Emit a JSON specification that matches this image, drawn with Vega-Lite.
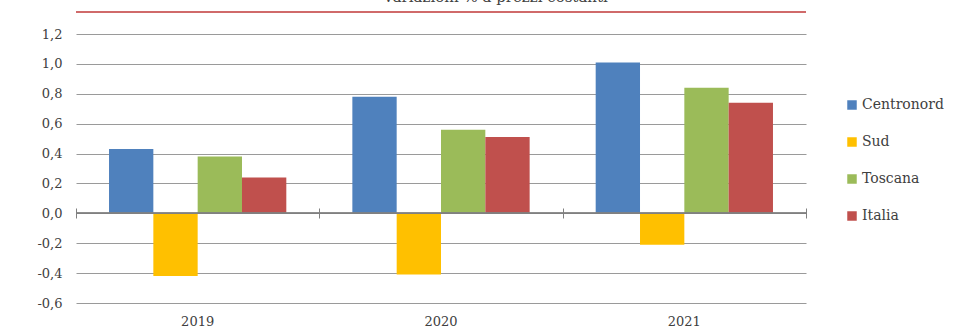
{
  "$schema": "https://vega.github.io/schema/vega-lite/v6.json",
  "width": 730,
  "height": 269,
  "autosize": {"type": "none"},
  "padding": {"left": 76, "top": 34, "right": 161, "bottom": 31},
  "background": "white",
  "title": {
    "text": "variazioni % a prezzi costanti",
    "anchor": "middle",
    "dx": 55,
    "dy": 12,
    "offset": 3,
    "baseline": "bottom",
    "font": "DejaVu Serif",
    "fontSize": 15,
    "fontWeight": "normal",
    "color": "#404040"
  },
  "config": {
    "view": {"stroke": null},
    "font": "DejaVu Serif",
    "axisY": {
      "title": null,
      "values": [-0.6, -0.4, -0.2, 0, 0.2, 0.4, 0.6, 0.8, 1.0, 1.2],
      "labelExpr": "(datum.value < -0.001 ? '-' : '') + replace(format(abs(datum.value), '.1f'), '.', ',')",
      "labelOverlap": false,
      "domain": false,
      "ticks": false,
      "grid": true,
      "gridColor": "#9a9a9a",
      "gridWidth": 1,
      "labelPadding": 14,
      "labelFontSize": 13,
      "labelColor": "#404040",
      "labelFont": "DejaVu Serif"
    }
  },
  "data": {
    "values": [
      {"anno": "2019", "area": "Centronord", "v": 0.43},
      {"anno": "2019", "area": "Sud", "v": -0.42},
      {"anno": "2019", "area": "Toscana", "v": 0.38},
      {"anno": "2019", "area": "Italia", "v": 0.24},
      {"anno": "2020", "area": "Centronord", "v": 0.78},
      {"anno": "2020", "area": "Sud", "v": -0.41},
      {"anno": "2020", "area": "Toscana", "v": 0.56},
      {"anno": "2020", "area": "Italia", "v": 0.51},
      {"anno": "2021", "area": "Centronord", "v": 1.01},
      {"anno": "2021", "area": "Sud", "v": -0.21},
      {"anno": "2021", "area": "Toscana", "v": 0.84},
      {"anno": "2021", "area": "Italia", "v": 0.74}
    ]
  },
  "layer": [
    {
      "mark": {"type": "bar"},
      "encoding": {
        "x": {
          "field": "anno",
          "type": "nominal",
          "scale": {"paddingInner": 0, "paddingOuter": 0},
          "axis": {
            "title": null,
            "orient": "bottom",
            "domain": false,
            "ticks": false,
            "grid": false,
            "labelAngle": 0,
            "labelPadding": 12,
            "labelFontSize": 13,
            "labelColor": "#404040",
            "labelFont": "DejaVu Serif"
          }
        },
        "xOffset": {
          "field": "area",
          "type": "nominal",
          "sort": ["Centronord", "Sud", "Toscana", "Italia"],
          "scale": {"paddingInner": 0, "paddingOuter": 0.745}
        },
        "y": {
          "field": "v",
          "type": "quantitative",
          "title": null,
          "scale": {"domain": [-0.6, 1.2], "nice": false, "zero": false}
        },
        "color": {
          "field": "area",
          "type": "nominal",
          "sort": ["Centronord", "Sud", "Toscana", "Italia"],
          "scale": {
            "domain": ["Centronord", "Sud", "Toscana", "Italia"],
            "range": ["#4F81BD", "#FFC000", "#9BBB59", "#C0504D"]
          },
          "legend": {
            "title": null,
            "orient": "none",
            "legendX": 769,
            "legendY": 64,
            "padding": 0,
            "symbolType": "square",
            "symbolSize": 90,
            "symbolStrokeWidth": 0,
            "rowPadding": 23,
            "labelFontSize": 14,
            "labelColor": "#404040",
            "labelFont": "DejaVu Serif",
            "labelOffset": 3
          }
        }
      }
    },
    {
      "mark": {"type": "rule", "color": "#808080", "strokeWidth": 1},
      "encoding": {"y": {"datum": 0, "title": null}}
    },
    {
      "mark": {"type": "rule", "color": "#D06A6A", "strokeWidth": 2, "clip": false},
      "encoding": {"y": {"datum": 1.347, "title": null}}
    },
    {
      "mark": {"type": "tick", "opacity": 0},
      "encoding": {
        "x": {
          "field": "anno",
          "type": "nominal",
          "axis": {
            "orient": "bottom",
            "offset": -95,
            "title": null,
            "labels": false,
            "domain": false,
            "grid": false,
            "ticks": true,
            "tickBand": "extent",
            "tickSize": 10,
            "tickColor": "#808080"
          }
        },
        "y": {"datum": 0, "title": null}
      }
    }
  ],
  "resolve": {"axis": {"x": "independent"}}
}
